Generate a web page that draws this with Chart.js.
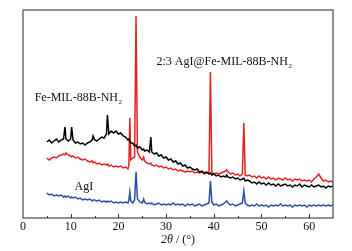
<!DOCTYPE html>
<html>
<head>
<meta charset="utf-8">
<script src="https://cdn.jsdelivr.net/npm/chart.js@4.4.1/dist/chart.umd.min.js"></script>
<style>
  html, body { margin: 0; padding: 0; background: #fff; }
  #wrap { width: 352px; height: 251px; }
</style>
</head>
<body>
<div id="wrap"><canvas id="xrd"></canvas></div>
<script>
// 2theta (degrees)
const twoTheta = [5,5.5,6,6.5,7,7.5,8,8.5,8.8,9,9.5,10,10.2,10.5,11,11.5,12,12.5,13,13.5,14,14.5,14.7,15,15.5,16,16.5,17,17.5,17.7,18,18.5,19,19.5,20,20.5,21,21.5,22,22.2,22.4,22.6,23,23.4,23.7,24,24.5,25,25.3,25.5,26,26.5,26.8,27,27.5,28,28.5,29,29.5,30,30.5,31,31.5,32,32.5,33,33.5,34,34.5,35,35.5,36,36.5,37,37.5,38,38.5,39,39.3,39.6,40,40.5,41,41.5,42,42.5,42.7,43,43.5,44,44.5,45,45.5,46,46.3,46.6,47,47.5,48,48.5,49,49.5,50,50.5,51,51.5,52,52.5,53,53.5,54,54.5,55,55.5,56,56.5,57,57.5,58,58.5,59,59.5,60,60.5,61,61.5,62,62.5,63,63.5,64,64.5,65];

// intensities (a.u., curves already offset as in the figure)
const feMil = [76,78,75,77,79,76,78,79,91,79,77,79,91,78,75,76,74,75,73,75,76,78,82,78,77,79,81,80,84,103,84,87,85,87,84,85,82,81,78,79,77,75,75,72,73,70,71,68,69,67,68,66,81,66,64,65,62,63,60,61,58,59,56,57,54,55,52,53,50,51,49,48,49,46,47,45,46,44,45,43,44,42,43,41,42,41,43,41,40,41,39,40,38,39,40,37,38,37,35,36,34,36,34,35,33,35,33,34,32,34,32,33,34,32,33,31,33,32,34,31,33,32,31,33,31,32,33,31,32,30,32,31,32];

const agiFeMil = [60,58,60,61,60,62,63,64,63,65,63,62,61,62,60,61,59,58,59,57,56,57,55,56,54,55,53,54,53,54,52,53,51,52,51,52,50,51,49,53,100,58,60,61,202,66,61,58,61,57,55,54,55,53,52,53,51,52,50,51,49,50,48,49,47,48,47,46,47,46,47,45,46,45,46,44,45,46,146,46,44,45,44,45,46,47,48,46,44,45,43,44,42,44,95,43,42,43,41,42,40,42,40,41,39,41,39,40,38,40,39,38,40,38,39,37,39,38,39,37,38,37,38,36,39,41,44,40,37,38,36,37,36];

const agi = [25,23,24,22,23,22,23,21,22,21,22,20,21,20,21,19,20,18,19,18,19,17,18,18,17,18,16,17,16,17,16,17,15,16,15,16,15,16,15,18,26,17,15,18,46,19,16,15,19,16,14,15,14,15,13,14,15,13,14,13,14,13,15,13,14,13,14,12,14,13,14,12,13,14,12,13,14,15,37,16,13,14,12,13,14,16,17,15,13,14,12,13,14,15,27,15,13,12,13,12,14,12,13,12,13,11,13,12,13,12,14,12,13,12,13,11,13,12,13,12,13,11,13,12,13,12,13,12,13,12,13,12,13];

const seriesNames = ['Fe-MIL-88B-NH2', '2:3 AgI@Fe-MIL-88B-NH2', 'AgI'];
const xTicks = [0, 10, 20, 30, 40, 50, 60];

const serif = '"Liberation Serif", "DejaVu Serif", serif';

const toPoints = (ys) => ys.map((y, i) => ({ x: twoTheta[i], y }));

// frame, inward ticks, curve labels and the mixed-style axis title
const decorations = {
  id: 'decorations',
  afterDatasetsDraw(chart) {
    const { ctx, chartArea: a, scales: { x, y } } = chart;
    ctx.save();
    ctx.strokeStyle = '#555';
    ctx.lineWidth = 1.3;
    ctx.strokeRect(a.left, a.top, a.right - a.left, a.bottom - a.top);

    ctx.lineWidth = 1;
    ctx.strokeStyle = '#333';
    for (let v = 5; v < 65; v += 5) {
      const px = Math.round(x.getPixelForValue(v)) + 0.5;
      const len = v % 10 === 0 ? 4 : 2;
      ctx.beginPath();
      ctx.moveTo(px, a.bottom);
      ctx.lineTo(px, a.bottom - len);
      ctx.stroke();
    }

    ctx.fillStyle = '#111';
    ctx.textBaseline = 'middle';
    const label = (main, sub, xv, yv) => {
      const px = x.getPixelForValue(xv), py = y.getPixelForValue(yv);
      ctx.font = '12px ' + serif;
      ctx.fillText(main, px, py);
      if (sub) {
        const w = ctx.measureText(main).width;
        ctx.font = '7px ' + serif;
        ctx.fillText(sub, px + w + 0.5, py + 4);
      }
    };
    label('Fe-MIL-88B-NH', '2', 2.45, 120);
    label('2:3 AgI@Fe-MIL-88B-NH', '2', 28.0, 156);
    label('AgI', '', 10.8, 31);

    // axis title: 2θ / (°)
    const parts = [['italic 12px ' + serif, '2θ'], ['12px ' + serif, ' / (°)']];
    let total = 0;
    parts.forEach(([f, t]) => { ctx.font = f; total += ctx.measureText(t).width; });
    let tx = (a.left + a.right) / 2 - total / 2;
    parts.forEach(([f, t]) => {
      ctx.font = f;
      ctx.fillText(t, tx, 240);
      tx += ctx.measureText(t).width;
    });
    ctx.restore();
  }
};

new Chart(document.getElementById('xrd'), {
  type: 'line',
  data: {
    datasets: [
      { label: seriesNames[0], data: toPoints(feMil), borderColor: '#000000' },
      { label: seriesNames[1], data: toPoints(agiFeMil), borderColor: '#e3231f' },
      { label: seriesNames[2], data: toPoints(agi), borderColor: '#2b4ea6' }
    ]
  },
  options: {
    responsive: true,
    maintainAspectRatio: false,
    animation: false,
    parsing: false,
    layout: { padding: { left: 23, right: 19, top: 10, bottom: 0 } },
    elements: {
      point: { radius: 0 },
      line: { borderWidth: 1.5, tension: 0 }
    },
    plugins: {
      legend: { display: false },
      tooltip: { enabled: false }
    },
    scales: {
      x: {
        type: 'linear',
        min: 0,
        max: 65,
        afterFit: (s) => { s.height = 33; },
        afterBuildTicks: (s) => { s.ticks = xTicks.map((v) => ({ value: v })); },
        ticks: {
          color: '#111',
          padding: 2,
          maxRotation: 0,
          font: { family: serif, size: 12 }
        },
        grid: { display: false, drawTicks: false },
        border: { display: false }
      },
      y: {
        display: false,
        min: 0,
        max: 208
      }
    }
  },
  plugins: [decorations]
});
</script>
</body>
</html>
